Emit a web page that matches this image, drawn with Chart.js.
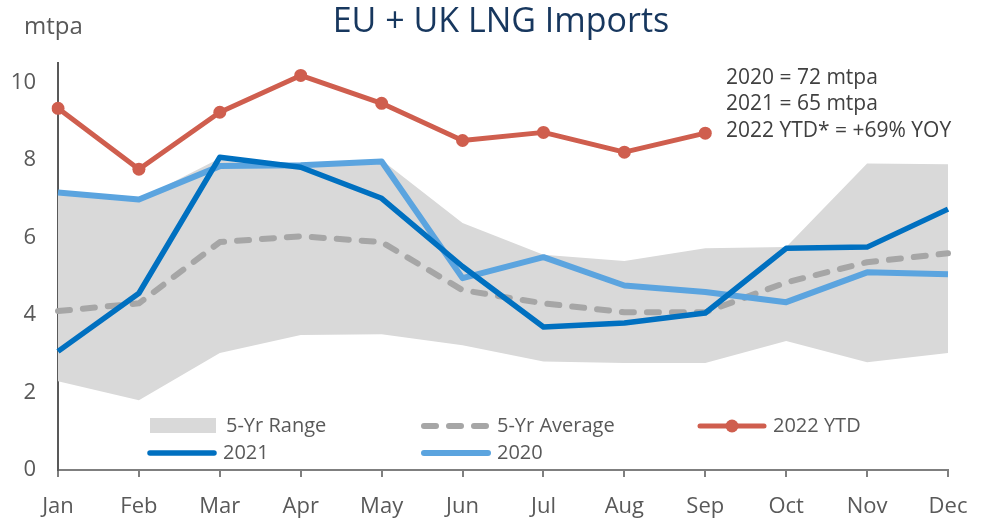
<!DOCTYPE html>
<html><head><meta charset="utf-8">
<script src="https://cdn.jsdelivr.net/npm/chart.js@4.4.0/dist/chart.umd.min.js"></script>
<style>html,body{margin:0;padding:0;background:#fff}#wrap{width:992px;height:518px;position:relative}</style>
</head><body><div id="wrap"><canvas id="c"></canvas></div>
<script>
const months = ['Jan','Feb','Mar','Apr','May','Jun','Jul','Aug','Sep','Oct','Nov','Dec'];
const range5yLow  = [2.29,1.80,3.02,3.48,3.50,3.22,2.80,2.76,2.76,3.33,2.78,3.02];
const range5yHigh = [7.16,6.98,8.04,7.90,8.00,6.37,5.55,5.39,5.72,5.75,7.91,7.89];
const avg5y = [4.10,4.30,5.88,6.03,5.88,4.64,4.30,4.07,4.07,4.84,5.36,5.59];
const y2020 = [7.16,6.98,7.84,7.86,7.96,4.95,5.49,4.76,4.59,4.33,5.10,5.05];
const y2021 = [3.06,4.56,8.07,7.81,7.01,5.25,3.69,3.79,4.05,5.72,5.75,6.73];
const y2022 = [9.33,7.76,9.23,10.18,9.46,8.50,8.71,8.20,8.69];
const yTicks = [0,2,4,6,8,10];
const titleText = 'EU + UK LNG Imports';
const unitText = 'mtpa';
const notes = ['2020 = 72 mtpa','2021 = 65 mtpa','2022 YTD* = +69% YOY'];

const C = {red:'#CF5E4E', dark:'#0070C0', light:'#5BA4DF', avg:'#A6A6A6', range:'#D9D9D9', text:'#595959', title:'#17375E'};
const FONT = "'Open Sans', 'Noto Sans', sans-serif";

const datasets = [
  {label:'5-Yr Range', data:range5yHigh, fill:1, backgroundColor:C.range, borderColor:C.range, borderWidth:0, pointRadius:0, order:10, lt:'box'},
  {label:'range-low', data:range5yLow, fill:false, borderWidth:0, borderColor:'rgba(0,0,0,0)', pointRadius:0, order:11, lt:'none'},
  {label:'5-Yr Average', data:avg5y, fill:false, borderColor:C.avg, borderWidth:6, borderDash:[12,13], borderCapStyle:'round', borderJoinStyle:'round', pointRadius:0, order:5, lt:'line'},
  {label:'2020', data:y2020, fill:false, borderColor:C.light, borderWidth:6, borderJoinStyle:'round', pointRadius:0, order:4, lt:'line'},
  {label:'2021', data:y2021, fill:false, borderColor:C.dark, borderWidth:5.5, borderJoinStyle:'round', pointRadius:0, order:3, lt:'line'},
  {label:'2022 YTD', data:y2022, fill:false, borderColor:C.red, backgroundColor:C.red, borderWidth:5, borderJoinStyle:'round', pointRadius:6.5, pointBorderWidth:0, pointBackgroundColor:C.red, order:1, lt:'marker'}
];

const textPlugin = {
  id:'texts',
  afterDraw(chart){
    const ctx = chart.ctx; ctx.save();
    ctx.textBaseline = 'middle';
    ctx.fillStyle = C.title; ctx.textAlign = 'center';
    ctx.font = "34px " + FONT;
    ctx.fillText(titleText, 501, 22);
    ctx.fillStyle = C.text; ctx.textAlign = 'left';
    ctx.font = "24px " + FONT;
    ctx.fillText(unitText, 24, 27);
    ctx.fillStyle = '#404040';
    ctx.font = "21px " + FONT;
    notes.forEach((t,i)=>ctx.fillText(t, 726, 78 + i*26.5));
    ctx.restore();
  }
};

const legendPlugin = {
  id:'customLegend',
  afterDraw(chart){
    const ctx = chart.ctx; ctx.save();
    const slots = [
      {ds:0, x:150, y:426}, {ds:2, x:421, y:426}, {ds:5, x:697, y:426},
      {ds:4, x:147, y:453}, {ds:3, x:421, y:453}
    ];
    ctx.font = "20px " + FONT; ctx.textBaseline = 'middle'; ctx.textAlign = 'left';
    slots.forEach(s=>{
      const d = chart.data.datasets[s.ds];
      const w = 70;
      if (d.lt === 'box') {
        ctx.fillStyle = d.backgroundColor; ctx.fillRect(s.x, s.y-8, 66, 15);
      } else {
        ctx.beginPath(); ctx.strokeStyle = d.borderColor; ctx.lineWidth = d.borderWidth;
        ctx.lineCap = 'round'; ctx.setLineDash(d.borderDash || []);
        ctx.moveTo(s.x+3, s.y); ctx.lineTo(s.x+w-3, s.y); ctx.stroke();
        ctx.setLineDash([]);
        if (d.lt === 'marker') {
          ctx.beginPath(); ctx.fillStyle = d.borderColor; ctx.arc(s.x+w/2, s.y, d.pointRadius, 0, Math.PI*2); ctx.fill();
        }
      }
      ctx.fillStyle = C.text;
      ctx.fillText(d.label, s.x + w + 6, s.y);
    });
    ctx.restore();
  }
};

new Chart(document.getElementById('c'), {
  type:'line',
  data:{labels:months, datasets},
  options:{
    responsive:true, maintainAspectRatio:false, animation:false,
    layout:{padding:{top:63, right:44, left:0, bottom:0}},
    plugins:{legend:{display:false}, tooltip:{enabled:false}, title:{display:false}},
    elements:{line:{tension:0}},
    scales:{
      x:{type:'category', offset:false,
        grid:{display:true, drawOnChartArea:false, drawTicks:true, tickLength:7, color:'#7F7F7F', lineWidth:2},
        border:{display:true, color:'#7F7F7F', width:2},
        ticks:{color:C.text, font:{family:FONT, size:22}, padding:17, maxRotation:0, autoSkip:false},
        afterFit(s){ s.height = 48; }
      },
      y:{min:0, max:10.5,
        grid:{display:false, drawTicks:false},
        border:{display:true, color:'#595959', width:2},
        ticks:{color:C.text, font:{family:FONT, size:22}, padding:22},
        afterBuildTicks(s){ s.ticks = yTicks.map(v=>({value:v})); },
        afterFit(s){ s.width = 58; }
      }
    }
  },
  plugins:[textPlugin, legendPlugin]
});
</script></body></html>
